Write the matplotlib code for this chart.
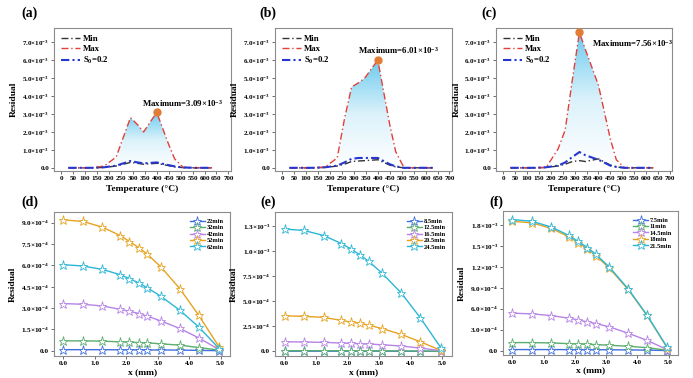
import numpy as np
import matplotlib.pyplot as plt
from matplotlib.colors import LinearSegmentedColormap

plt.rcParams['font.family'] = ['Liberation Serif', 'DejaVu Serif']
plt.rcParams['font.weight'] = 'bold'
plt.rcParams['mathtext.fontset'] = 'custom'
plt.rcParams['mathtext.rm'] = 'Liberation Serif:bold'
plt.rcParams['mathtext.bf'] = 'Liberation Serif:bold'
plt.rcParams['mathtext.it'] = 'Liberation Serif:bold'

# ---- top row: residual vs temperature (values in 1e-3) ----
temp = [30, 80, 130, 180, 230, 260, 290, 320, 345, 400, 450, 475, 510, 560, 630]
min_a = [0, 0, 0, 0.02, 0.1, 0.2, 0.3, 0.25, 0.2, 0.25, 0.12, 0.05, 0.01, 0, 0]
max_a = [0, 0, 0, 0.1, 0.6, 1.7, 2.8, 2.4, 2.0, 3.09, 1.3, 0.5, 0.03, 0, 0]
s0_a = [0, 0, 0, 0.03, 0.12, 0.25, 0.38, 0.3, 0.25, 0.3, 0.15, 0.08, 0.02, 0, 0]

min_b = [0, 0, 0, 0.02, 0.1, 0.2, 0.35, 0.38, 0.4, 0.45, 0.15, 0.05, 0, 0, 0]
max_b = [0, 0, 0, 0.05, 0.55, 2.7, 4.5, 4.75, 5.0, 6.01, 2.4, 0.9, 0, 0, 0]
s0_b = [0, 0, 0, 0.03, 0.12, 0.3, 0.5, 0.55, 0.55, 0.55, 0.2, 0.08, 0, 0, 0]

min_c = [0, 0, 0, 0.02, 0.1, 0.2, 0.35, 0.4, 0.35, 0.5, 0.15, 0.05, 0, 0, 0]
max_c = [0, 0, 0, 0.02, 1.05, 2.1, 4.9, 7.56, 6.6, 4.6, 1.6, 0.45, 0, 0, 0]
s0_c = [0, 0, 0, 0.03, 0.12, 0.3, 0.6, 0.88, 0.7, 0.45, 0.12, 0.05, 0, 0, 0]

top_labels = ['(a)', '(b)', '(c)']
max_text = ['Maximum=3.09×10$^{-3}$', 'Maximum=6.01×10$^{-3}$', 'Maximum=7.56×10$^{-3}$']
text_pos = [(340, 3.6), (318, 6.55), (372, 6.93)]

# ---- bottom row: residual vs x (values in 1e-4) ----
xmm = [0, 0.62, 1.24, 1.8, 2.1, 2.4, 2.67, 3.1, 3.7, 4.3, 4.95]

d_labels = ['22min', '32min', '42min', '52min', '62min']
d_vals = [
    [0.08, 0.08, 0.08, 0.07, 0.07, 0.07, 0.06, 0.06, 0.05, 0.03, 0.01],
    [0.70, 0.70, 0.68, 0.63, 0.61, 0.58, 0.56, 0.49, 0.40, 0.23, 0.05],
    [3.32, 3.27, 3.15, 2.92, 2.78, 2.62, 2.43, 2.10, 1.57, 0.91, 0.09],
    [9.20, 9.09, 8.69, 8.10, 7.68, 7.24, 6.78, 5.89, 4.37, 2.50, 0.28],
    [6.05, 5.96, 5.72, 5.35, 5.07, 4.77, 4.42, 3.83, 2.85, 1.68, 0.16],
]
e_labels = ['8.5min', '12.5min', '16.5min', '20.5min', '24.5min']
e_vals = [
    [0.02, 0.02, 0.02, 0.02, 0.02, 0.02, 0.02, 0.02, 0.01, 0.01, 0.0],
    [0.07, 0.07, 0.07, 0.06, 0.06, 0.06, 0.06, 0.05, 0.04, 0.03, 0.01],
    [0.96, 0.93, 0.90, 0.83, 0.80, 0.76, 0.73, 0.66, 0.53, 0.33, 0.07],
    [3.55, 3.49, 3.39, 3.09, 2.92, 2.79, 2.62, 2.26, 1.69, 0.96, 0.10],
    [12.2, 12.06, 11.56, 10.76, 10.23, 9.6, 8.97, 7.77, 5.81, 3.36, 0.37],
]
f_labels = ['7.5min', '11min', '14.5min', '18min', '21.5min']
f_vals = [
    [0.15, 0.15, 0.15, 0.14, 0.14, 0.13, 0.13, 0.12, 0.10, 0.07, 0.01],
    [1.15, 1.15, 1.10, 1.00, 0.96, 0.91, 0.86, 0.77, 0.62, 0.43, 0.05],
    [5.36, 5.26, 5.02, 4.64, 4.40, 4.11, 3.88, 3.40, 2.49, 1.48, 0.14],
    [18.5, 18.3, 17.5, 16.3, 15.45, 14.55, 13.6, 11.8, 8.75, 5.05, 0.40],
    [18.76, 18.52, 17.7, 16.5, 15.65, 14.74, 13.78, 11.96, 8.85, 5.12, 0.48],
]
bottom_labels = ['(d)', '(e)', '(f)']

series_colors = ['#3d6fe0', '#5aae6e', '#b683e6', '#e6a321', '#2cb6d6']


def sci_label(v, exp):
    if abs(v) < 1e-12:
        return '0.0'
    m = v / 10.0 ** exp
    s = '%.1f' % (np.floor(m * 10 + 0.5) / 10)
    return s + '×10$^{%d}$' % exp


def style_axes(ax):
    for sp in ax.spines.values():
        sp.set_color('#8c8c8c')
        sp.set_linewidth(0.8)
    ax.tick_params(labelsize=5, length=2, width=0.6, color='#555555', pad=1.5)


fig = plt.figure(figsize=(6.93, 3.78), dpi=100)

top_pos = [[0.078, 0.548, 0.255, 0.378],
           [0.397, 0.548, 0.255, 0.378],
           [0.716, 0.548, 0.254, 0.378]]
bot_pos = [[0.078, 0.058, 0.254, 0.381],
           [0.397, 0.058, 0.255, 0.381],
           [0.726, 0.061, 0.2525, 0.381]]

grad_cmap = LinearSegmentedColormap.from_list('g', ['#ffffff', '#dcf2fb', '#6ccbee'])

tops = [(min_a, max_a, s0_a), (min_b, max_b, s0_b), (min_c, max_c, s0_c)]
for i, (mn, mx, s0) in enumerate(tops):
    ax = fig.add_axes(top_pos[i])
    style_axes(ax)
    t = np.array(temp)
    mn = np.array(mn) * 1e-3
    mx = np.array(mx) * 1e-3
    s0 = np.array(s0) * 1e-3
    poly = ax.fill_between(t, mn, mx, color='none', lw=0)
    peak = mx.max()
    grad = np.linspace(0, 1, 256).reshape(-1, 1)
    img = ax.imshow(grad, extent=[t.min(), t.max(), 0, peak], origin='lower',
                    aspect='auto', cmap=grad_cmap, zorder=1)
    img.set_clip_path(poly.get_paths()[0], transform=ax.transData)
    ax.plot(t, mn, color='#333333', ls=(0, (5, 2, 1, 2)), lw=1.0, label='Min', zorder=3)
    ax.plot(t, mx, color='#e3403a', ls=(0, (5, 2, 1, 2)), lw=1.0, label='Max', zorder=3)
    ax.plot(t, s0, color='#2637d0', ls=(0, (4, 1.5, 1, 1.5)), lw=1.5, label='S$_0$=0.2', zorder=3)
    k = int(np.argmax(mx))
    ax.plot(t[k], mx[k], 'o', color='#e27c35', ms=5, zorder=4)
    ax.text(text_pos[i][0], text_pos[i][1] * 1e-3, max_text[i], fontsize=6.3,
            fontweight='bold', va='center', ha='left')
    ax.set_xlim(-30, 710)
    ax.set_ylim(-0.17e-3, 7.8e-3)
    ax.set_xticks(np.arange(0, 701, 50))
    yt = np.arange(0, 7.01, 1.0) * 1e-3
    ax.set_yticks(yt)
    ax.set_yticklabels([sci_label(v, -3) for v in yt])
    ax.set_xlabel('Temperature (°C)', fontsize=6.8, fontweight='bold', labelpad=3)
    ax.set_ylabel('Residual', fontsize=6.8, fontweight='bold', labelpad=3)
    ax.legend(loc='upper left', frameon=False, fontsize=6.3, handlelength=2.2,
              handletextpad=0.3, labelspacing=0.2, borderaxespad=0.4)
    fig.text(top_pos[i][0] - 0.035 if i == 0 else top_pos[i][0] - 0.01, 0.955,
             top_labels[i], fontsize=10, fontweight='bold', ha='center')

bottoms = [(d_labels, d_vals, 0.975e-3, -0.37e-4, 1.5e-4),
           (e_labels, e_vals, 1.39e-3, -0.47e-4, 2.5e-4),
           (f_labels, f_vals, 2.0e-3, -0.62e-4, 3.0e-4)]
for i, (labs, vals, ytop, ybot, ystep) in enumerate(bottoms):
    ax = fig.add_axes(bot_pos[i])
    style_axes(ax)
    for j, (lab, v) in enumerate(zip(labs, vals)):
        ax.plot(xmm, np.array(v) * 1e-4, color=series_colors[j], lw=1.0,
                marker='*', ms=6.5, mfc='white', mec=series_colors[j], mew=0.6,
                label=lab)
    ax.set_xlim(-0.3, 5.3)
    ax.set_ylim(ybot, ytop)
    ax.set_xticks(np.arange(0, 5.01, 1.0))
    ax.set_xticklabels(['%.1f' % v for v in np.arange(0, 5.01, 1.0)])
    yt = np.arange(0, ytop - 0.5 * ystep + 1e-12, ystep)
    yt = yt[yt <= ytop]
    ax.set_yticks(yt)
    ax.set_yticklabels([sci_label(v, -4 if v < 9.99e-4 else -3) for v in yt])
    ax.tick_params(labelsize=5.2)
    ax.set_xlabel('x (mm)', fontsize=6.8, fontweight='bold', labelpad=2)
    ax.set_ylabel('Residual', fontsize=6.8, fontweight='bold', labelpad=3)
    ax.legend(loc='upper right', frameon=False, fontsize=4.6, handlelength=2.4,
              handletextpad=0.2, labelspacing=0.15, borderaxespad=0.6,
              markerscale=1.0)
    fig.text(bot_pos[i][0] - 0.035 if i == 0 else bot_pos[i][0] - 0.01, 0.455,
             bottom_labels[i], fontsize=10, fontweight='bold', ha='center')

fig.savefig('out.png', dpi=100)
